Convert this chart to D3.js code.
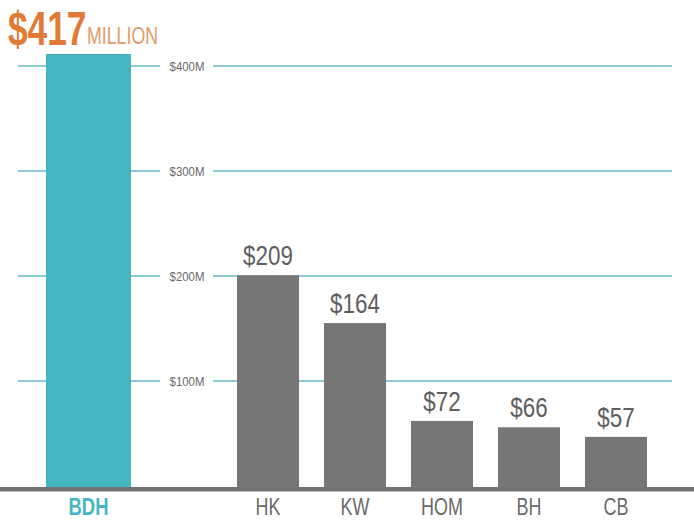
<!DOCTYPE html>
<html>
<head>
<meta charset="utf-8">
<script src="https://cdn.jsdelivr.net/npm/d3@7"></script>
<style>
  html, body { margin: 0; padding: 0; background: #ffffff; }
  svg { display: block; }
  text { font-family: "Liberation Sans", Arial, sans-serif; }
</style>
</head>
<body>
<svg id="chart" width="694" height="525"></svg>
<script>
// ---- data ----
const leadCategory = "BDH";
const leadValue = 417;
const categories = ["HK", "KW", "HOM", "BH", "CB"];
const values = [209, 164, 72, 66, 57];
const tickValues = [100, 200, 300, 400];
const tickLabels = ["$100M", "$200M", "$300M", "$400M"];
const headlineNumber = "$417";
const headlineUnit = "MILLION";

// ---- layout ----
const W = 694, H = 525;
const baseY = 489;
const svg = d3.select("#chart");

// grid scale (as drawn by the axis) and bar scale (as drawn by the bars)
const yGrid = d3.scaleLinear().domain([0, 400]).range([486, 66]);
const yBar = d3.scaleLinear().domain([0, leadValue]).range([497.5, 54]);

const xLead = d3.scaleBand().domain([leadCategory]).range([46, 131]).padding(0);
const x = d3.scaleBand().domain(categories).range([237, 647]).paddingInner(0.287).paddingOuter(0);

const teal = "#44b6c2";
const grey = "#767676";
const gridColor = "#8ccbd4";

// gridlines (left segment, right segment) with labels in the gap
const grid = svg.append("g");
tickValues.forEach((t, i) => {
  const gy = yGrid(t);
  grid.append("line").attr("x1", 18).attr("x2", 160).attr("y1", gy).attr("y2", gy)
    .attr("stroke", gridColor).attr("stroke-width", 2);
  grid.append("line").attr("x1", 213).attr("x2", 672).attr("y1", gy).attr("y2", gy)
    .attr("stroke", gridColor).attr("stroke-width", 2);
  grid.append("text")
    .attr("transform", `translate(187,${gy + 4.5}) scale(0.88,1)`)
    .attr("text-anchor", "middle")
    .attr("font-size", 13)
    .attr("fill", "#6a6a6a")
    .text(tickLabels[i]);
});

// lead bar
svg.append("rect")
  .attr("x", xLead(leadCategory))
  .attr("width", xLead.bandwidth())
  .attr("y", yBar(leadValue))
  .attr("height", baseY - yBar(leadValue))
  .attr("fill", teal);

// other bars
svg.append("g").selectAll("rect").data(values).join("rect")
  .attr("x", (d, i) => x(categories[i]))
  .attr("width", x.bandwidth())
  .attr("y", d => yBar(d))
  .attr("height", d => baseY - yBar(d))
  .attr("fill", grey);

// value labels
svg.append("g").selectAll("text").data(values).join("text")
  .attr("transform", (d, i) => `translate(${x(categories[i]) + x.bandwidth() / 2},${yBar(d) - 10}) scale(0.8,1)`)
  .attr("text-anchor", "middle")
  .attr("font-size", 28)
  .attr("fill", "#5e5e5e")
  .text(d => "$" + d);

// baseline axis
svg.append("rect").attr("x", 0).attr("y", 487).attr("width", W).attr("height", 4.5).attr("fill", "#727272");

// category labels
svg.append("text")
  .attr("transform", `translate(${xLead(leadCategory) + xLead.bandwidth() / 2},515) scale(0.8,1)`)
  .attr("text-anchor", "middle")
  .attr("font-size", 23)
  .attr("font-weight", "bold")
  .attr("fill", teal)
  .text(leadCategory);

svg.append("g").selectAll("text").data(categories).join("text")
  .attr("transform", d => `translate(${x(d) + x.bandwidth() / 2},515) scale(0.78,1)`)
  .attr("text-anchor", "middle")
  .attr("font-size", 23)
  .attr("fill", "#6a6a6a")
  .text(d => d);

// headline
const head = svg.append("text")
  .attr("transform", "translate(8,45) scale(0.72,1)")
  .attr("font-size", 49)
  .attr("font-weight", "bold")
  .attr("fill", "#e07a36");
head.append("tspan").text(headlineNumber);
svg.append("text")
  .attr("transform", "translate(87,44) scale(0.74,1)")
  .attr("font-size", 24)
  .attr("fill", "#e39a68")
  .text(headlineUnit);
</script>
</body>
</html>
